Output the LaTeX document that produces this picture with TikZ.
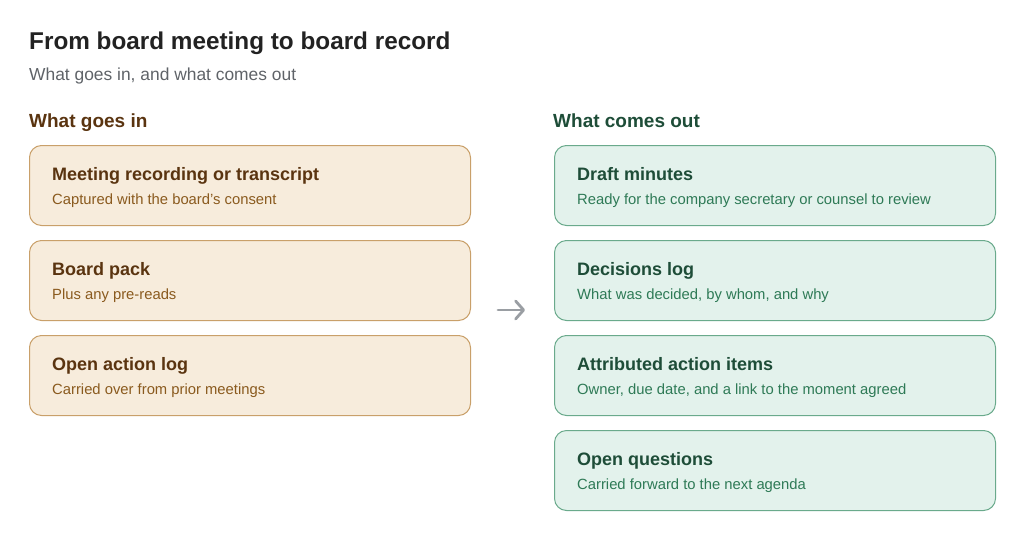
\documentclass[tikz,border=0pt]{standalone}
\usepackage{fontspec}
\setmainfont{Liberation Sans}
\usetikzlibrary{arrows.meta}
\definecolor{inFill}{HTML}{F7ECDC}
\definecolor{inLine}{HTML}{C9A06A}
\definecolor{inHead}{HTML}{5A3410}
\definecolor{inSub}{HTML}{8A5A1E}
\definecolor{outFill}{HTML}{E3F2EC}
\definecolor{outLine}{HTML}{6AAA8C}
\definecolor{outHead}{HTML}{1E4D38}
\definecolor{outSub}{HTML}{2E7A56}
\definecolor{titleInk}{HTML}{222222}
\definecolor{greyInk}{HTML}{5F6368}
\definecolor{arrInk}{HTML}{9A9EA3}
\tikzset{
  inbox/.style={draw=inLine,fill=inFill,line width=1pt,rounded corners=12pt,
    minimum width=441pt,minimum height=80pt,anchor=north west,inner sep=0pt},
  outbox/.style={inbox,draw=outLine,fill=outFill},
  boxhead/.style={anchor=base west,inner sep=0pt,font=\fontsize{18}{21}\selectfont\bfseries},
  boxsub/.style={anchor=base west,inner sep=0pt,font=\fontsize{14.8}{17}\selectfont},
}
\begin{document}
\begin{tikzpicture}[x=1pt,y=1pt]
      \useasboundingbox (0,0) rectangle (1024,-538);
      \node[anchor=base west,inner sep=0pt,text=titleInk,
      font=\fontsize{24.3}{28}\selectfont\bfseries] (title) at (29,-49)
      {From board meeting to board record};
      \node[anchor=base west,inner sep=0pt,text=greyInk,
      font=\fontsize{17.4}{20}\selectfont] (subtitle) at (29,-80)
      {What goes in, and what comes out};
      % the two columns
      \node[anchor=base west,inner sep=0pt,text=inHead,
      font=\fontsize{19}{22}\selectfont\bfseries] (inlabel) at (29,-127)
      {What goes in};
      \node[anchor=base west,inner sep=0pt,text=outHead,
      font=\fontsize{19}{22}\selectfont\bfseries] (outlabel) at (553,-127)
      {What comes out};
      % inputs
      \node[inbox] (rec) at (29,-145) {};
      \node[boxhead,text=inHead] (rech) at ([shift={(23,-35)}]rec.north west)
      {Meeting recording or transcript};
      \node[boxsub,text=inSub] (recs) at ([shift={(23,-59)}]rec.north west)
      {Captured with the board’s consent};
      \node[inbox] (pack) at (29,-240) {};
      \node[boxhead,text=inHead] (packh) at ([shift={(23,-35)}]pack.north west)
      {Board pack};
      \node[boxsub,text=inSub] (packs) at ([shift={(23,-59)}]pack.north west)
      {Plus any pre-reads};
      \node[inbox] (alog) at (29,-335) {};
      \node[boxhead,text=inHead] (alogh) at ([shift={(23,-35)}]alog.north west)
      {Open action log};
      \node[boxsub,text=inSub] (alogs) at ([shift={(23,-59)}]alog.north west)
      {Carried over from prior meetings};
      % outputs
      \node[outbox] (mins) at (554,-145) {};
      \node[boxhead,text=outHead] (minsh) at ([shift={(23,-35)}]mins.north west)
      {Draft minutes};
      \node[boxsub,text=outSub] (minss) at ([shift={(23,-59)}]mins.north west)
      {Ready for the company secretary or counsel to review};
      \node[outbox] (dlog) at (554,-240) {};
      \node[boxhead,text=outHead] (dlogh) at ([shift={(23,-35)}]dlog.north west)
      {Decisions log};
      \node[boxsub,text=outSub] (dlogs) at ([shift={(23,-59)}]dlog.north west)
      {What was decided, by whom, and why};
      \node[outbox] (items) at (554,-335) {};
      \node[boxhead,text=outHead] (itemsh) at ([shift={(23,-35)}]items.north west)
      {Attributed action items};
      \node[boxsub,text=outSub] (itemss) at ([shift={(23,-59)}]items.north west)
      {Owner, due date, and a link to the moment agreed};
      \node[outbox] (oq) at (554,-430) {};
      \node[boxhead,text=outHead] (oqh) at ([shift={(23,-35)}]oq.north west)
      {Open questions};
      \node[boxsub,text=outSub] (oqs) at ([shift={(23,-59)}]oq.north west)
      {Carried forward to the next agenda};
      % in -> out
      \coordinate (arrS) at (498,-310); \coordinate (arrE) at (525,-310);
      \draw[arrInk,line width=2.8pt,line cap=round,
      -{Straight Barb[round,length=8pt,width=18pt]}] (arrS) -- (arrE);
\end{tikzpicture}
\end{document}
